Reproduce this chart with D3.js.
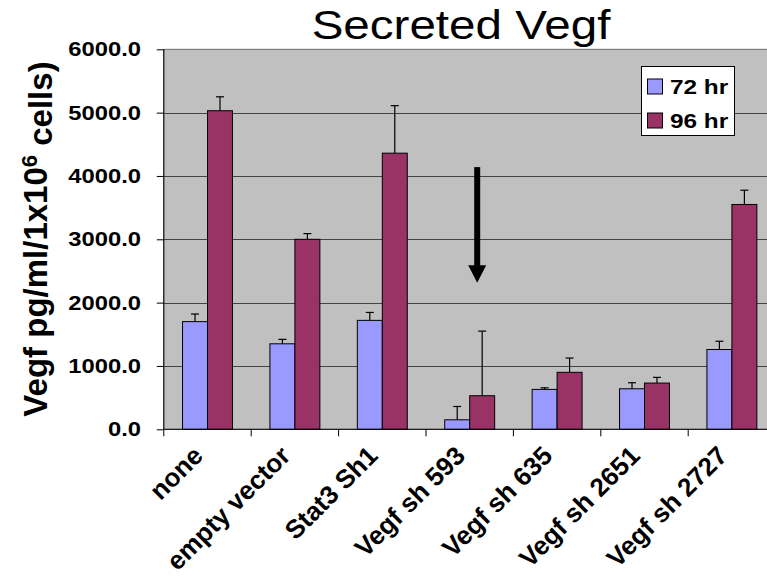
<!DOCTYPE html>
<html>
<head>
<meta charset="utf-8">
<script src="https://cdn.jsdelivr.net/npm/d3@7"></script>
<style>
  html, body { margin: 0; padding: 0; background: #ffffff; }
  svg { display: block; }
  text { font-family: "Liberation Sans", Arial, Helvetica, sans-serif; }
</style>
</head>
<body>
<div id="chart"></div>
<script>
// Secreted Vegf per 10^6 cells at 72 and 96 hours, by shRNA construct
const categories = ["none", "empty vector", "Stat3 Sh1", "Vegf sh 593", "Vegf sh 635", "Vegf sh 2651", "Vegf sh 2727"];
const seriesNames = ["72 hr", "96 hr"];
const values72 = [1700, 1350, 1720, 150, 630, 640, 1260];
const values96 = [5030, 3000, 4360, 530, 900, 730, 3550];
const errors72 = [120, 70, 125, 210, 25, 95, 130];
const errors96 = [220, 90, 750, 1020, 225, 90, 225];
const yTicks = [0, 1000, 2000, 3000, 4000, 5000, 6000];
const colors = ["#9999FF", "#993366"];

// arrow pointing at the knockdown group (value units)
const arrowCategory = "Vegf sh 593";
const arrowTop = 4140, arrowHeadBase = 2590, arrowTip = 2315;

const W = 767, H = 579;
const SX = 1.16; // horizontal text stretch

const svg = d3.select("#chart").append("svg")
  .attr("width", W).attr("height", H);

const plot = { left: 163.8, top: 49.3, bottom: 429.3, right: 775.6 };

const x = d3.scaleBand().domain(categories)
  .range([plot.left, plot.right]).paddingInner(0).paddingOuter(0);
const y = d3.scaleLinear().domain([0, 6000]).range([plot.bottom, plot.top]);
const barW = x.bandwidth() / 3.5;

// plot background
svg.append("rect")
  .attr("x", plot.left).attr("y", plot.top)
  .attr("width", plot.right - plot.left).attr("height", plot.bottom - plot.top)
  .attr("fill", "#C0C0C0").attr("stroke", "#808080").attr("stroke-width", 1);

// gridlines
svg.append("g").selectAll("line").data(yTicks.filter(d => d > 0)).join("line")
  .attr("x1", plot.left).attr("x2", plot.right)
  .attr("y1", d => Math.round(y(d)) + 0.5).attr("y2", d => Math.round(y(d)) + 0.5)
  .attr("stroke", d => d === 6000 ? "#808080" : "#444444").attr("stroke-width", 1);

// bars
const seriesVals = [values72, values96];
const seriesErr = [errors72, errors96];
seriesVals.forEach((vals, si) => {
  const bx = (c) => x(c) + x.bandwidth() / 2 + (si - 1) * barW;
  svg.append("g").selectAll("rect").data(categories).join("rect")
    .attr("x", c => bx(c))
    .attr("y", (c, i) => y(vals[i]))
    .attr("width", barW)
    .attr("height", (c, i) => y(0) - y(vals[i]))
    .attr("fill", colors[si])
    .attr("stroke", "#000").attr("stroke-width", 1);
  // error bars (upper only)
  const eg = svg.append("g").attr("stroke", "#000").attr("stroke-width", 1.2);
  categories.forEach((c, i) => {
    const cx = bx(c) + barW / 2;
    eg.append("line").attr("x1", cx).attr("x2", cx)
      .attr("y1", y(vals[i])).attr("y2", y(vals[i] + seriesErr[si][i]));
    eg.append("line").attr("x1", cx - 4).attr("x2", cx + 4)
      .attr("y1", y(vals[i] + seriesErr[si][i])).attr("y2", y(vals[i] + seriesErr[si][i]));
  });
});

// y axis
const yAxis = d3.axisLeft(y).tickValues(yTicks).tickSize(7).tickFormat("");
const yg = svg.append("g").attr("transform", `translate(${plot.left},0)`).call(yAxis);
yg.select(".domain").attr("stroke", "#000").attr("d", `M0,${plot.top}V${plot.bottom}`);
yg.selectAll(".tick line").attr("stroke", "#000");

svg.append("g").selectAll("text").data(yTicks).join("text")
  .attr("transform", d => `translate(141,${y(d) + 7}) scale(${SX},1)`)
  .attr("text-anchor", "end")
  .attr("font-size", 20.5).attr("font-weight", "bold")
  .text(d => d3.format(".1f")(d));

// x axis
const xAxis = d3.axisBottom(x).tickSize(0).tickFormat("");
const xg = svg.append("g").attr("transform", `translate(0,${plot.bottom})`).call(xAxis);
xg.select(".domain").attr("stroke", "#000").attr("d", `M${plot.left},0H${plot.right}`);
xg.selectAll(".tick").remove();
svg.append("g").selectAll("line").data(categories).join("line")
  .attr("x1", c => x(c)).attr("x2", c => x(c))
  .attr("y1", plot.bottom).attr("y2", plot.bottom + 7)
  .attr("stroke", "#000");

svg.append("g").selectAll("text").data(categories).join("text")
  .attr("transform", c => `translate(${x(c) + x.bandwidth() / 2 - 3},${plot.bottom + 28}) rotate(-45)`)
  .attr("text-anchor", "end")
  .attr("font-size", 26).attr("font-weight", "bold")
  .text(c => c);

// y axis title
const yt = svg.append("text")
  .attr("transform", `translate(47,239) rotate(-90)`)
  .attr("text-anchor", "middle")
  .attr("font-size", 33).attr("font-weight", "bold");
yt.append("tspan").text("Vegf pg/ml/1x10");
yt.append("tspan").attr("dy", "-0.45em").attr("font-size", 22).text("6");
yt.append("tspan").attr("dy", "0.45em").text(" cells)");

// chart title
svg.append("text")
  .attr("transform", `translate(461,39) scale(${SX},1)`)
  .attr("text-anchor", "middle")
  .attr("font-size", 41)
  .text("Secreted Vegf");

// legend
const lg = svg.append("g");
lg.append("rect").attr("x", 641.5).attr("y", 66.5).attr("width", 93).attr("height", 69)
  .attr("fill", "#fff").attr("stroke", "#000").attr("stroke-width", 1);
seriesNames.forEach((name, i) => {
  const ly = 79 + i * 34;
  lg.append("rect").attr("x", 647.5).attr("y", ly).attr("width", 15).attr("height", 15)
    .attr("fill", colors[i]).attr("stroke", "#000").attr("stroke-width", 1);
  lg.append("text")
    .attr("transform", `translate(670,${ly + 15}) scale(${SX},1)`)
    .attr("font-size", 21).attr("font-weight", "bold")
    .text(name);
});

// arrow annotation
const ax = x(arrowCategory) + x.bandwidth() / 2 + 7.5;
svg.append("rect")
  .attr("x", ax - 3).attr("y", y(arrowTop))
  .attr("width", 6).attr("height", y(arrowHeadBase) - y(arrowTop) + 1)
  .attr("fill", "#000");
svg.append("path")
  .attr("d", `M${ax - 9},${y(arrowHeadBase)}L${ax + 9},${y(arrowHeadBase)}L${ax},${y(arrowTip)}Z`)
  .attr("fill", "#000");
</script>
</body>
</html>
